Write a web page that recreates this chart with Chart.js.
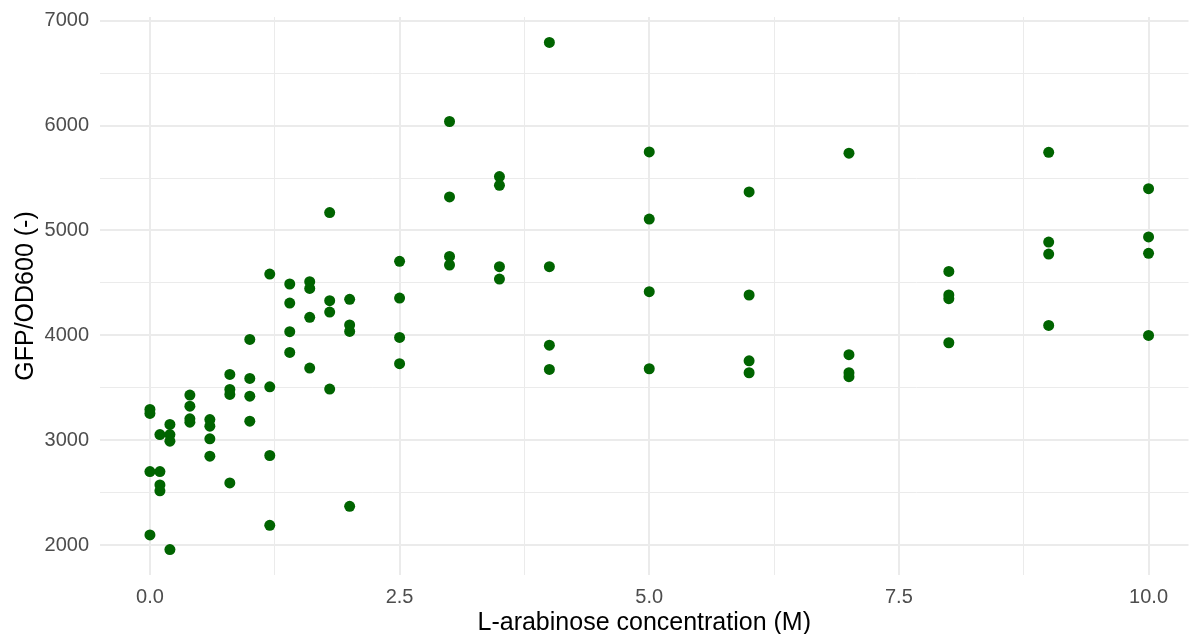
<!DOCTYPE html>
<html>
<head>
<meta charset="utf-8">
<script src="https://cdn.jsdelivr.net/npm/chart.js@4"></script>
<style>
  html, body { margin: 0; padding: 0; background: #fff; }
  #wrap { width: 1194px; height: 634px; position: relative; }
</style>
</head>
<body>
<div id="wrap"><canvas id="gfpChart"></canvas></div>
<script>
// L-arabinose concentration (M), four replicate readings each
const concentration = [0, 0.1, 0.2, 0.4, 0.6, 0.8, 1.0, 1.2, 1.4, 1.6, 1.8, 2.0, 2.5, 3, 3.5, 4, 5, 6, 7, 8, 9, 10];
const repA = [3294, 3055, 3151, 3431, 3198, 3628, 3962, 4585, 4490, 4512, 5171, 4344, 4706, 6039, 5514, 6793, 5749, 5367, 5737, 4610, 5745, 5399];
const repB = [3256, 2702, 3055, 3325, 3135, 3485, 3590, 3510, 4308, 4448, 4331, 4099, 4356, 5320, 5431, 4655, 5109, 4385, 3816, 4385, 4890, 4939];
const repC = [2702, 2575, 2992, 3205, 3014, 3437, 3421, 2855, 4035, 4172, 4222, 4038, 3981, 4753, 4655, 3907, 4417, 3758, 3644, 4350, 4775, 4782];
const repD = [2098, 2518, 1958, 3173, 2849, 2594, 3182, 2190, 3838, 3688, 3488, 2371, 3730, 4671, 4537, 3676, 3682, 3644, 3606, 3930, 4095, 4000];

// tick positions (major ones get a label, the rest are minor grid lines)
const xTicks = [0, 1.25, 2.5, 3.75, 5, 6.25, 7.5, 8.75, 10];
const xMajor = [0, 2.5, 5, 7.5, 10];
const yTicks = [2000, 2500, 3000, 3500, 4000, 4500, 5000, 5500, 6000, 6500, 7000];
const yMajor = [2000, 3000, 4000, 5000, 6000, 7000];

const points = [];
[repA, repB, repC, repD].forEach(rep => {
    concentration.forEach((c, i) => points.push({ x: c, y: rep[i] }));
});

const isMajor = (list, v) => list.some(m => Math.abs(m - v) < 1e-6);

const ctx = document.getElementById('gfpChart').getContext('2d');
new Chart(ctx, {
    type: 'scatter',
    data: {
        datasets: [{
            data: points,
            backgroundColor: '#006400',
            borderWidth: 0,
            pointRadius: 5.5,
            pointHoverRadius: 5.5,
        }],
    },
    options: {
        responsive: true,
        maintainAspectRatio: false,
        animation: false,
        layout: { padding: { top: 17, right: 0, left: 0, bottom: 0 } },
        plugins: {
            legend: { display: false },
            tooltip: { enabled: false },
        },
        scales: {
            x: {
                type: 'linear',
                min: -0.5,
                max: 10.40,
                afterBuildTicks: s => { s.ticks = xTicks.map(v => ({ value: v })); },
                afterFit: s => { s.height = 59; s.paddingLeft = 0; s.paddingRight = 0; },
                border: { display: false },
                grid: {
                    drawTicks: false,
                    color: '#EBEBEB',
                    lineWidth: c => isMajor(xMajor, c.tick.value) ? 2 : 1,
                },
                ticks: {
                    padding: 10,
                    color: '#4D4D4D',
                    font: { family: 'Liberation Sans, Arial, sans-serif', size: 20 },
                    callback: v => isMajor(xMajor, v) ? v.toFixed(1) : '',
                },
                title: {
                    display: true,
                    text: 'L-arabinose concentration (M)',
                    color: '#000',
                    padding: { top: 0, bottom: 0 },
                    font: { family: 'Liberation Sans, Arial, sans-serif', size: 25, lineHeight: 0.9 },
                },
            },
            y: {
                type: 'linear',
                min: 1716,
                max: 7035,
                afterBuildTicks: s => { s.ticks = yTicks.map(v => ({ value: v })); },
                afterFit: s => { s.width = 100; s.paddingTop = 0; s.paddingBottom = 0; },
                border: { display: false },
                grid: {
                    drawTicks: false,
                    color: '#EBEBEB',
                    lineWidth: c => isMajor(yMajor, c.tick.value) ? 2 : 1,
                },
                ticks: {
                    padding: 11,
                    color: '#4D4D4D',
                    font: { family: 'Liberation Sans, Arial, sans-serif', size: 20 },
                    callback: v => isMajor(yMajor, v) ? String(v) : '',
                },
                title: {
                    display: true,
                    text: 'GFP/OD600 (-)',
                    color: '#000',
                    padding: { top: 11, bottom: 0 },
                    font: { family: 'Liberation Sans, Arial, sans-serif', size: 25 },
                },
            },
        },
    },
});
</script>
</body>
</html>
